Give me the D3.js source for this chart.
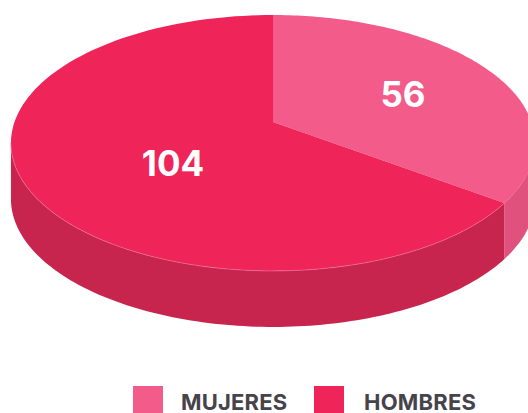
<!DOCTYPE html>
<html>
<head>
<meta charset="utf-8">
<script src="https://cdn.jsdelivr.net/npm/d3@7"></script>
<style>
    html, body { margin: 0; padding: 0; background: #fff; overflow: hidden; }
    text { font-family: Inter, "Open Sans", sans-serif; font-weight: 700; }
</style>
</head>
<body>
<div id="chart"></div>
<script>
// Tilted 3D pie: mujeres / hombres
const categories = ['MUJERES', 'HOMBRES'];
const values = [56, 104];
const topColors = ['#f25b8a', '#ef2458'];
const sideColors = ['#e0517e', '#c7254e'];

const width = 528, height = 413;
const apexX = 273, apexY = 122, depth = 56;
const radiusX = 258.5, radiusY = 124.5, tilt = -0.164;

const svg = d3.select('#chart').append('svg')
    .attr('width', width)
    .attr('height', height)
    .style('display', 'block');

// Circle -> picture with a small perspective, near side looks bigger
const project = (angle) => {
    const u = Math.sin(angle), v = -Math.cos(angle);
    const w = 1 + tilt * v;
    return [apexX + radiusX * u / w, apexY + radiusY * v / w];
};

const arcs = d3.pie().sort(null).value(d => d)(values);
const line = d3.line();

const rimPoints = (a0, a1) => d3.range(0, 121).map(i => project(a0 + (a1 - a0) * i / 120));

// Side wall, only the part facing us: between the two widest points of the rim
const frontStart = Math.acos(tilt), frontEnd = 2 * Math.PI - frontStart;
const sideLayer = svg.append('g');
arcs.forEach((d, i) => {
    const a0 = Math.max(d.startAngle, frontStart), a1 = Math.min(d.endAngle, frontEnd);
    const rim = rimPoints(a0, a1);
    const lower = rim.map(p => [p[0], p[1] + depth]).reverse();
    sideLayer.append('path')
        .attr('d', line(rim.concat(lower)) + 'Z')
        .attr('fill', sideColors[i]);
});

// Top face
const topLayer = svg.append('g');
arcs.forEach((d, i) => {
    const pts = [[apexX, apexY]].concat(rimPoints(d.startAngle, d.endAngle));
    topLayer.append('path')
        .attr('d', line(pts) + 'Z')
        .attr('fill', topColors[i]);
});

// Thin light edge where the top meets the wall
svg.append('path')
    .attr('d', line(rimPoints(frontStart, frontEnd)))
    .attr('fill', 'none')
    .attr('stroke', '#f06a8e')
    .attr('stroke-width', 0.7);

// Value labels
const labelPos = [[403, 107], [173, 176]];
svg.selectAll('text.value')
    .data(values)
    .join('text')
    .attr('class', 'value')
    .attr('x', (d, i) => labelPos[i][0])
    .attr('y', (d, i) => labelPos[i][1])
    .attr('text-anchor', 'middle')
    .attr('font-size', 35)
    .attr('fill', '#fff')
    .text(d => d);

// Legend
const legendX = [133, 314], legendTextX = [181, 364];
categories.forEach((c, i) => {
    svg.append('rect')
        .attr('x', legendX[i]).attr('y', 386)
        .attr('width', 30).attr('height', 27)
        .attr('fill', topColors[i]);
    svg.append('text')
        .attr('x', legendTextX[i]).attr('y', 410)
        .attr('font-size', 22)
        .attr('letter-spacing', 0.2)
        .attr('fill', '#47434a')
        .text(c);
});
</script>
</body>
</html>
